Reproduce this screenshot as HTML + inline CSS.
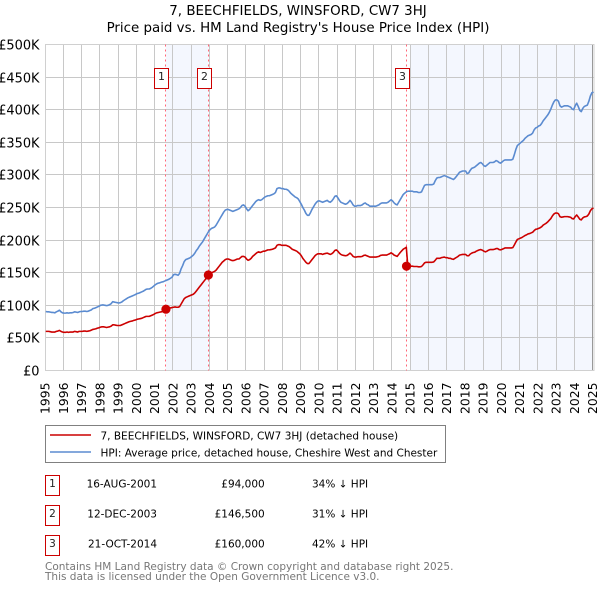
<!DOCTYPE html>
<html lang="en">
<head>
<meta charset="utf-8">
<title>7, BEECHFIELDS, WINSFORD, CW7 3HJ</title>
<style>
html,body{margin:0;padding:0;background:#fff;width:600px;height:590px;overflow:hidden}
svg{display:block;font-family:"DejaVu Sans","Liberation Sans",sans-serif}
</style>
</head>
<body>
<svg id="chart" xmlns="http://www.w3.org/2000/svg" width="600" height="590" viewBox="0 0 600 590">
  <g text-anchor="middle" fill="#000">
    <text x="298" y="15" font-size="13.4">7, BEECHFIELDS, WINSFORD, CW7 3HJ</text>
    <text x="298" y="32" font-size="13.4">Price paid vs. HM Land Registry's House Price Index (HPI)</text>
  </g>
  <g id="plot"></g>

  <g>
    <rect x="45.5" y="425.5" width="400" height="37" fill="#fff" stroke="#808080" stroke-width="1"/>
    <line x1="50" x2="91" y1="435" y2="435" stroke="#cc0000" stroke-width="1.6"/>
    <text x="100.5" y="439.3" font-size="10.5">7, BEECHFIELDS, WINSFORD, CW7 3HJ (detached house)</text>
    <line x1="50" x2="91" y1="452" y2="452" stroke="#5b8bd0" stroke-width="1.6"/>
    <text x="100.5" y="456.3" font-size="10.5">HPI: Average price, detached house, Cheshire West and Chester</text>
  </g>

  <g font-size="10.5" fill="#000">
    <g>
      <rect x="45.5" y="475.5" width="14" height="20" fill="#fff" stroke="#cc0000"/>
      <text x="52.5" y="487" text-anchor="middle" fill="#222">1</text>
      <text x="157" y="487.5" text-anchor="end">16-AUG-2001</text>
      <text x="264.7" y="487.5" text-anchor="end">£94,000</text>
      <text x="312" y="487.5">34% ↓ HPI</text>
    </g>
    <g>
      <rect x="45.5" y="505.5" width="14" height="20" fill="#fff" stroke="#cc0000"/>
      <text x="52.5" y="517" text-anchor="middle" fill="#222">2</text>
      <text x="157" y="517.5" text-anchor="end">12-DEC-2003</text>
      <text x="264.7" y="517.5" text-anchor="end">£146,500</text>
      <text x="312" y="517.5">31% ↓ HPI</text>
    </g>
    <g>
      <rect x="45.5" y="535.5" width="14" height="20" fill="#fff" stroke="#cc0000"/>
      <text x="52.5" y="547" text-anchor="middle" fill="#222">3</text>
      <text x="157" y="547.5" text-anchor="end">21-OCT-2014</text>
      <text x="264.7" y="547.5" text-anchor="end">£160,000</text>
      <text x="312" y="547.5">42% ↓ HPI</text>
    </g>
  </g>

  <g font-size="10.5" fill="#777">
    <text x="45" y="570">Contains HM Land Registry data © Crown copyright and database right 2025.</text>
    <text x="45" y="580">This data is licensed under the Open Government Licence v3.0.</text>
  </g>
</svg>
<script>
var startYear = 1995;
var yearTicks = [1995,1996,1997,1998,1999,2000,2001,2002,2003,2004,2005,2006,2007,2008,2009,2010,2011,2012,2013,2014,2015,2016,2017,2018,2019,2020,2021,2022,2023,2024,2025];
var valueTicks = [0,50,100,150,200,250,300,350,400,450,500];
var valueTickLabels = ["£0","£50K","£100K","£150K","£200K","£250K","£300K","£350K","£400K","£450K","£500K"];

// Monthly values in £ thousands, from January 1995
var hpiValues = [
90.5,90,90,89.5,89,89,88.5,90,91,92.5,90,88.5,
88,88,88.5,88,88.5,88.5,89,90,89.5,89,90,90.5,
90.5,91,91,90.5,91,92,93,95,95.5,96.5,97.5,98.5,
100,100.5,100.5,100,99.5,100,101,102.5,105.5,105,104.5,104,
103.5,104,105,107,108.5,110,111.5,112.5,113.5,114.5,115.5,116.5,
118,118.5,119.5,120.5,121.5,123,124.5,125,125,126,127.5,129.5,
131.5,133,134,134.5,135.5,136,137,138,139,140,141.5,143,
147,147.5,147,146,149,156,161,167,170,171,172,173,
175,177,180,184,187,191,194,197,201,205,209,213,
216,218,219,220,223,227,231,235,239,243,246,247,
247,246,245,244,245,246,247,248,250,253,254,252,
248,245,247,250,253,256,259,261,262,261,262,264,
266,267,268,268,269,270,271,273,279,280,280,279,
279,278,278,277,275,272,270,268,266,265,263,259,
255,250,246,241,238,238,242,247,251,255,258,260,
260,259,258,259,260,261,259,258,260,263,267,268,
265,261,258,257,256,255,256,258,261,258,254,252,
252,253,253,253,254,256,257,255,254,252,252,252,
252,252,253,254,256,257,257,257,257,258,260,262,
260,257,255,254,258,262,266,270,272,274,275,275,
275,275,274,274,274,273,273,274,279,284,285,285,
285,285,285,286,291,295,296,296,297,298,299,298,
297,296,295,294,293,295,298,301,304,305,306,306,
306,302,303,307,310,311,312,314,316,318,319,317,
314,313,315,317,319,319,319,320,322,321,319,318,
320,322,323,323,323,323,323,324,331,339,345,347,
349,351,353,356,358,360,361,362,364,369,372,373,
375,376,379,383,386,389,392,396,401,407,412,415,
415,413,406,404,405,406,406,406,405,404,401,400,
406,410,405,399,397,402,405,406,407,413,421,426,
427];

var priceValues = [
60,60,60,59.5,59,59,59,60,60.5,61.5,60,59,
58.5,58.5,59,58.5,59,59,59,60,59.5,59,60,60,
60,60.5,60.5,60,60.5,61,62,63,63.5,64,65,65.5,
66.5,67,67,66.5,66,66.5,67,68,70,70,69.5,69,
69,69,70,71,72,73,74,75,75.5,76,77,77.5,
78.5,79,79.5,80,81,82,83,83,83,84,85,86,
87.5,88.5,89,89.5,90,90.5,91.5,93.5,94.5,95,96,96.5,
97,97.5,97,97,98,102,106,110,112,113,114,115,
116,117,119,122,125,128,131,134,137,140,143,146.5,
148,150,151,152,154,157,160,163,166,168,170,171,
171,170,169,168.5,169,170,171,171,173,175,175,174,
171,169,170,172,175,177,179,181,182,181,182,183,
183,184,185,185,185.5,186,187,188,192,193,193,192,
192,192,192,191,190,188,186,185,184,183,181,179,
176,172,169,166,164,164,167,170,173,176,178,179,
179,179,178,179,179.5,180,179,178,179,181,184,185,
183,180,178,177,176.5,176,176.5,178,180,178,175,174,
174,174.5,174.5,174.5,175,176.5,177,176,175,174,174,174,
174,174,174.5,175,176.5,177,177,177,177,178,179,180.5,
179,177,176,175,178,181,183.5,186,187.5,189,160,160.5,
160,160,159.5,159.5,159.5,159,159,159.5,162,165,166,166,
166,166,166,166.5,169,172,172,172,173,173.5,174,173,
173,172,172,171,170.5,172,173.5,175,177,177.5,178,178,
178,176,176,178.5,180,181,181.5,183,184,185,185.5,184.5,
183,182,183,184.5,185.5,185.5,185.5,186,187,187,185.5,185,
186,187,188,188,188,188,188,188.5,192.5,197,201,202,
203,204,205.5,207,208,209.5,210,211,212,214.5,216.5,217,
218,219,220.5,223,224.5,226,228,230.5,233,237,240,241.5,
241.5,240.5,236,235,235.5,236,236,236,235.5,235,233,232.5,
236,238.5,235.5,232,231,234,235.5,236,237,240,245,248,
249];

var saleLabels = ["1","2","3"];
var saleDates = [2001.624,2003.948,2014.803];
var salePrices = [94,146.5,160];
var shadeStarts = [2001.624,2015];
var shadeEnds = [2003.948,2025];

var NS = 'http://www.w3.org/2000/svg';
var plot = document.getElementById('plot');
var left = 45, right = 592.7, top_ = 44.5, bottom = 370.5;

function xScale(year) { return left + (year - 1995) * (right - left) / 30; }
function yScale(v) { return bottom - v * (bottom - top_) / 500; }
function snap(p) { return Math.floor(p) + 0.5; }

function make(tag, attrs, parent) {
  var el = document.createElementNS(NS, tag);
  for (var k in attrs) el.setAttribute(k, attrs[k]);
  (parent || plot).appendChild(el);
  return el;
}

// Shaded ownership periods
shadeStarts.forEach(function (start, i) {
  var s = make('rect', {x: xScale(start), y: top_, width: xScale(shadeEnds[i]) - xScale(start), height: bottom - top_, fill: '#f4f7fe'});
  
  
});

// Horizontal grid + y labels
valueTicks.forEach(function (v, i) {
  var y = snap(yScale(v));
  var g = make('line', {x1: left + 0.5, x2: 594, y1: y, y2: y, stroke: '#c8c8c8', 'stroke-width': 1});
  
  
  var t = make('text', {x: 39.5, y: y + 4.8, 'text-anchor': 'end', 'font-size': 12.9, fill: '#000'});
  
  
  t.textContent = valueTickLabels[i];
});

// Vertical grid + x labels
yearTicks.forEach(function (yr) {
  var x = xScale(yr);
  var g = make('line', {x1: snap(x), x2: snap(x), y1: top_, y2: bottom, stroke: yr === 2025 ? '#999' : '#c8c8c8', 'stroke-width': 1});
  
  
  var t = make('text', {transform: 'translate(' + (x + 4.5) + ',382.5) rotate(-90)', 'text-anchor': 'end', 'font-size': 12.4, fill: '#000'});
  
  
  t.textContent = yr;
});

// Outer frame
var fr = make('rect', {x: left + 0.5, y: top_, width: 594 - left - 0.5, height: bottom - top_, fill: 'none', stroke: '#d0d0d0', 'stroke-width': 1});



// Sale reference lines
saleDates.forEach(function (d) {
  var l = make('line', {x1: snap(xScale(d)), x2: snap(xScale(d)), y1: top_, y2: bottom, stroke: '#ff6677', 'stroke-width': 1, 'stroke-dasharray': '2,3'});
  
  
});

function seriesPath(values) {
  return values.map(function (v, i) {
    return (i ? 'L' : 'M') + xScale(startYear + i / 12 + 0.04).toFixed(2) + ' ' + yScale(v).toFixed(2);
  }).join('');
}

var hpiLine = make('path', {d: seriesPath(hpiValues), fill: 'none', stroke: '#5b8bd0', 'stroke-width': 1.6, 'stroke-linejoin': 'round'});



var priceLine = make('path', {d: seriesPath(priceValues), fill: 'none', stroke: '#cc0000', 'stroke-width': 1.6, 'stroke-linejoin': 'round'});



// Sale points and numbered boxes
saleDates.forEach(function (d, i) {
  var x = xScale(d);
  var c = make('circle', {cx: x, cy: yScale(salePrices[i]), r: 4.6, fill: '#cc0000'});
  
  
  var b = make('rect', {x: snap(x) - 11, y: 68.5, width: 14, height: 20, fill: '#fff', stroke: '#cc0000', 'stroke-width': 1});
  
  
  var t = make('text', {x: snap(x) - 4, y: 80, 'text-anchor': 'middle', 'font-size': 10.9, fill: '#222'});
  
  
  t.textContent = saleLabels[i];
});
</script>
</body>
</html>
